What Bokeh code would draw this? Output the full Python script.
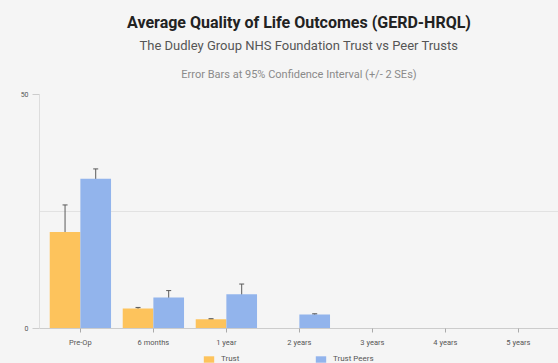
import math
from bokeh.plotting import figure
from bokeh.layouts import column
from bokeh.models import (ColumnDataSource, Range1d, FixedTicker, Whisker, TeeHead,
                          Title, Legend, LegendItem)
from bokeh.transform import dodge
from bokeh.embed import file_html
from bokeh.resources import INLINE

nan = float("nan")
categories = ["Pre-Op", "6 months", "1 year", "2 years", "3 years", "4 years", "5 years"]
trust = [20.6, 4.3, 2.0, nan, nan, nan, nan]
trust_err = [5.8, 0.2, 0.1, nan, nan, nan, nan]
peers = [32.0, 6.6, 7.3, 3.0, nan, nan, nan]
peers_err = [2.1, 1.5, 2.2, 0.15, nan, nan, nan]
series_names = ["Trust", "Trust Peers"]

idx = list(range(len(categories)))
src = ColumnDataSource(dict(
    x=idx, trust=trust, peers=peers,
    t_lo=[v - e for v, e in zip(trust, trust_err)],
    t_hi=[v + e for v, e in zip(trust, trust_err)],
    p_lo=[v - e for v, e in zip(peers, peers_err)],
    p_hi=[v + e for v, e in zip(peers, peers_err)],
))

BG = "#f5f5f5"
ORANGE = "#fdc35c"
BLUE = "#92b4ec"
FONT = "Roboto"

p = figure(width=558, height=350, output_backend="svg", toolbar_location=None,
           x_range=Range1d(-0.56, 6.55), y_range=Range1d(0, 50),
           min_border_left=39, min_border_right=0, min_border_top=15, min_border_bottom=22,
           background_fill_color=BG, border_fill_color=BG, outline_line_color=None)
p.title = None

r1 = p.vbar(x=dodge("x", -0.21, range=p.x_range), top="trust", width=0.42, source=src,
            fill_color=ORANGE, line_color=None)
r2 = p.vbar(x=dodge("x", 0.21, range=p.x_range), top="peers", width=0.42, source=src,
            fill_color=BLUE, line_color=None)

for col, off in (("t", -0.21), ("p", 0.21)):
    w = Whisker(base=dodge("x", off, range=p.x_range), lower=col + "_lo", upper=col + "_hi",
                source=src, line_color="#5a5a5a", line_width=1,
                upper_head=TeeHead(size=5, line_color="#5a5a5a", line_width=1),
                lower_head=TeeHead(size=5, line_color="#5a5a5a", line_width=1))
    p.add_layout(w)

# axes
p.xaxis.ticker = FixedTicker(ticks=idx)
p.xaxis.major_label_overrides = {i: c for i, c in zip(idx, categories)}
p.xaxis.major_label_text_font = FONT
p.xaxis.major_label_text_font_size = "7.5px"
p.xaxis.major_label_text_color = "#555555"
p.xaxis.axis_line_color = "#cccccc"
p.xaxis.major_tick_line_color = "#aaaaaa"
p.xaxis.major_tick_out = 4
p.xaxis.major_tick_in = 0
p.xaxis.minor_tick_line_color = None
p.xaxis.major_label_standoff = 5

p.yaxis.ticker = FixedTicker(ticks=[0, 50])
p.yaxis.major_label_text_font = FONT
p.yaxis.major_label_text_font_size = "7px"
p.yaxis.major_label_text_color = "#555555"
p.yaxis.axis_line_color = "#dddddd"
p.yaxis.major_tick_line_color = "#cccccc"
p.yaxis.major_tick_out = 7
p.yaxis.major_tick_in = 0
p.yaxis.minor_tick_line_color = None
p.yaxis.major_label_standoff = 4

p.xgrid.grid_line_color = None
p.ygrid.ticker = FixedTicker(ticks=[25, 50])
p.ygrid.grid_line_color = "#e2e2e2"

# titles (added inner-most first)
p.add_layout(Title(text="Error Bars at 95% Confidence Interval (+/- 2 SEs)", align="center",
                   text_font=FONT, text_font_size="11px", text_font_style="normal",
                   text_color="#8a8a8a", standoff=27), "above")
p.add_layout(Title(text="The Dudley Group NHS Foundation Trust vs Peer Trusts", align="center",
                   text_font=FONT, text_font_size="13px", text_font_style="normal",
                   text_color="#555555", standoff=0), "above")
p.add_layout(Title(text="Average Quality of Life Outcomes (GERD-HRQL)", align="center",
                   text_font=FONT, text_font_size="16px", text_font_style="bold",
                   text_color="#222222", standoff=8), "above")
p.add_layout(Title(text=" ", text_font_size="1px", standoff=3), "above")

# legend strip (its proxy bars use the same data but lie outside its visible range)
lg = figure(width=558, height=13, output_backend="svg", toolbar_location=None,
            x_range=Range1d(-0.56, 6.55), y_range=Range1d(1000, 1001),
            x_axis_location=None, y_axis_location=None,
            min_border=0, background_fill_color=BG, border_fill_color=BG,
            outline_line_color=None)
lg.grid.visible = False
l1 = lg.vbar(x="x", top="trust", width=0.42, source=src, fill_color=ORANGE, line_color=None)
l2 = lg.vbar(x="x", top="peers", width=0.42, source=src, fill_color=BLUE, line_color=None)
legend = Legend(items=[LegendItem(label=series_names[0], renderers=[l1]),
                       LegendItem(label=series_names[1], renderers=[l2])],
                orientation="horizontal", location=(163, 0),
                label_text_font=FONT, label_text_font_size="8px", label_text_color="#555555",
                glyph_width=13, glyph_height=8, label_standoff=6, spacing=73,
                label_height=8,
                background_fill_alpha=0, border_line_color=None, padding=1, margin=0)
lg.add_layout(legend, "center")

layout = column(p, lg, spacing=0)

html = file_html(layout, INLINE)
html = html.replace("<head>", "<head><style>body{margin:0;background:%s;}</style>" % BG, 1)
open("out.html", "w").write(html)
